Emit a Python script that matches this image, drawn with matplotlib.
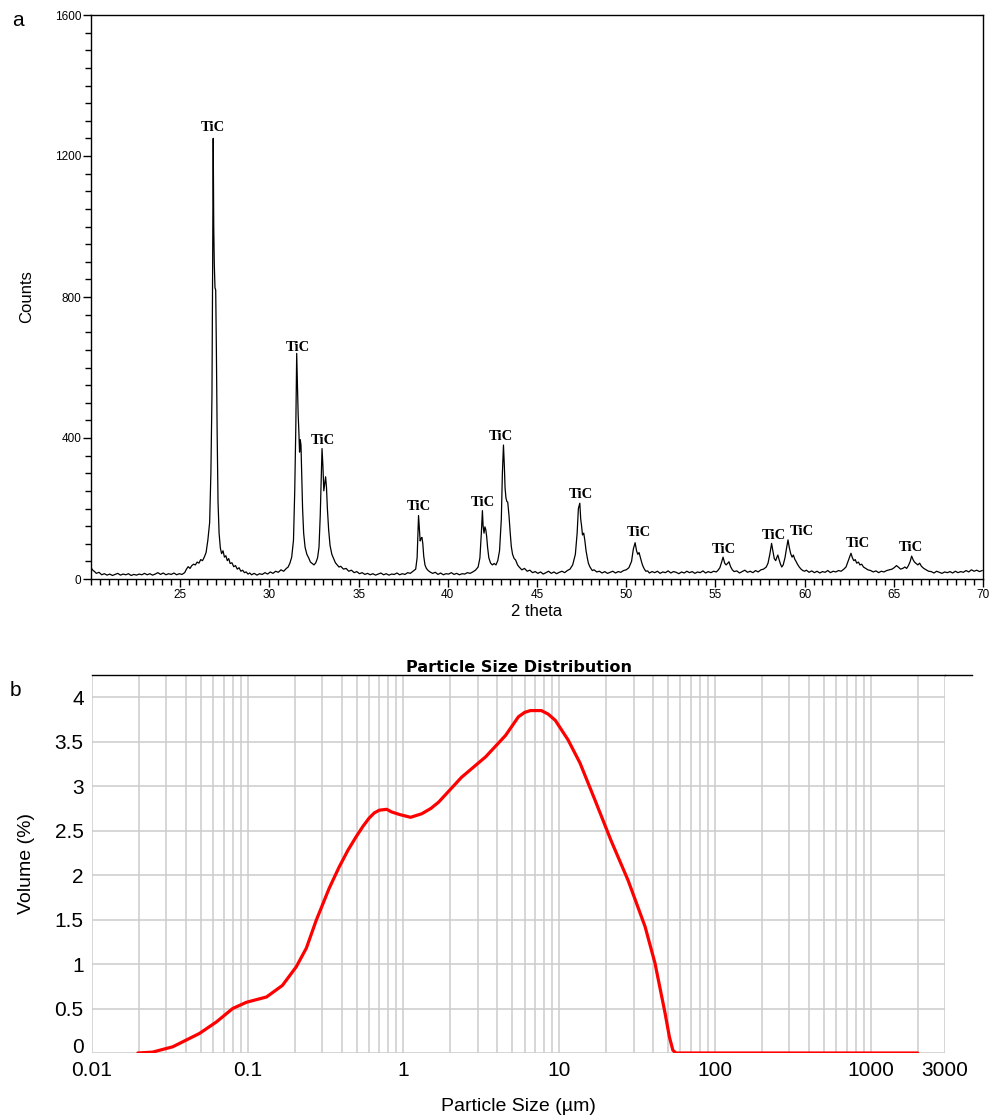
import numpy as np
import matplotlib
matplotlib.use('Agg')
import matplotlib.pyplot as plt
from matplotlib.ticker import MultipleLocator

# XRD 图谱数据 (2 theta, counts)
xrd_points = [
    (20.0, 32), (20.1, 25), (20.2, 21), (20.3, 16), (20.45, 19), (20.6, 12), (20.75, 15), (20.9, 11),
    (21.05, 14), (21.2, 10), (21.35, 13), (21.5, 16), (21.65, 11), (21.8, 14), (21.95, 12), (22.1, 15),
    (22.25, 10), (22.4, 13), (22.55, 11), (22.7, 14), (22.85, 12), (23.0, 16), (23.15, 12), (23.3, 15),
    (23.45, 11), (23.6, 14), (23.75, 18), (23.9, 13), (24.05, 17), (24.2, 12), (24.35, 15), (24.5, 13),
    (24.65, 17), (24.8, 12), (24.95, 15), (25.1, 13), (25.25, 18), (25.35, 28), (25.45, 35), (25.55, 30),
    (25.65, 38), (25.75, 42), (25.85, 40), (25.95, 48), (26.05, 45), (26.15, 55), (26.25, 52), (26.35, 62),
    (26.45, 75), (26.55, 110), (26.65, 160), (26.72, 300), (26.78, 520), (26.82, 900), (26.85, 1250),
    (26.88, 1000), (26.91, 896), (26.95, 826), (26.99, 820), (27.03, 640), (27.07, 420), (27.12, 220),
    (27.18, 130), (27.25, 88), (27.32, 72), (27.4, 80), (27.48, 62), (27.56, 66), (27.64, 52), (27.72, 58),
    (27.8, 44), (27.9, 46), (28.0, 35), (28.1, 38), (28.2, 28), (28.3, 32), (28.4, 22), (28.5, 25),
    (28.6, 18), (28.7, 20), (28.8, 14), (28.9, 17), (29.0, 12), (29.15, 16), (29.3, 11), (29.45, 15),
    (29.6, 13), (29.75, 18), (29.9, 14), (30.05, 20), (30.2, 16), (30.35, 22), (30.5, 19), (30.65, 26),
    (30.8, 22), (30.95, 30), (31.05, 34), (31.15, 45), (31.25, 62), (31.35, 110), (31.42, 250), (31.48, 430),
    (31.53, 640), (31.57, 560), (31.61, 470), (31.65, 420), (31.69, 360), (31.73, 395), (31.77, 380),
    (31.81, 300), (31.86, 200), (31.92, 130), (32.0, 90), (32.1, 70), (32.2, 60), (32.3, 48), (32.4, 44),
    (32.5, 40), (32.6, 46), (32.7, 60), (32.78, 90), (32.85, 180), (32.9, 280), (32.95, 370), (33.0, 320),
    (33.05, 250), (33.1, 270), (33.15, 290), (33.2, 260), (33.25, 200), (33.32, 140), (33.4, 95), (33.5, 70),
    (33.6, 58), (33.7, 46), (33.8, 40), (33.9, 34), (34.0, 36), (34.15, 28), (34.3, 30), (34.45, 22),
    (34.6, 25), (34.75, 18), (34.9, 21), (35.05, 15), (35.2, 18), (35.35, 13), (35.5, 16), (35.65, 12),
    (35.8, 15), (35.95, 11), (36.1, 14), (36.25, 17), (36.4, 12), (36.55, 15), (36.7, 11), (36.85, 14),
    (37.0, 13), (37.15, 17), (37.3, 12), (37.45, 15), (37.6, 13), (37.75, 18), (37.9, 16), (38.05, 22),
    (38.2, 28), (38.28, 60), (38.33, 130), (38.36, 180), (38.4, 150), (38.45, 108), (38.5, 115),
    (38.55, 118), (38.6, 100), (38.65, 65), (38.72, 40), (38.8, 30), (38.9, 24), (39.0, 20), (39.15, 16),
    (39.3, 19), (39.45, 13), (39.6, 17), (39.75, 12), (39.9, 15), (40.05, 14), (40.2, 18), (40.35, 13),
    (40.5, 16), (40.65, 12), (40.8, 15), (40.95, 14), (41.1, 18), (41.25, 16), (41.4, 20), (41.55, 25),
    (41.7, 34), (41.8, 60), (41.88, 130), (41.94, 194), (41.98, 150), (42.03, 130), (42.08, 148),
    (42.13, 140), (42.18, 120), (42.23, 90), (42.3, 60), (42.4, 45), (42.5, 40), (42.6, 44), (42.7, 40),
    (42.8, 52), (42.9, 80), (43.0, 170), (43.06, 300), (43.12, 380), (43.17, 320), (43.21, 258),
    (43.26, 230), (43.31, 220), (43.36, 218), (43.43, 180), (43.5, 130), (43.56, 92), (43.63, 70),
    (43.72, 58), (43.8, 54), (43.91, 40), (44.0, 34), (44.15, 26), (44.3, 30), (44.45, 22), (44.6, 25),
    (44.75, 18), (44.9, 21), (45.05, 16), (45.2, 20), (45.35, 14), (45.5, 18), (45.65, 22), (45.8, 16),
    (45.95, 20), (46.1, 15), (46.25, 19), (46.4, 22), (46.55, 18), (46.7, 24), (46.85, 28), (47.0, 40),
    (47.15, 70), (47.25, 130), (47.32, 200), (47.4, 215), (47.45, 170), (47.5, 150), (47.55, 125),
    (47.62, 130), (47.68, 110), (47.75, 80), (47.82, 60), (47.88, 45), (47.95, 36), (48.02, 30),
    (48.1, 24), (48.2, 26), (48.35, 20), (48.5, 22), (48.65, 17), (48.8, 21), (48.95, 16), (49.1, 19),
    (49.25, 22), (49.4, 17), (49.55, 21), (49.7, 19), (49.85, 24), (50.0, 26), (50.15, 32), (50.3, 50),
    (50.4, 85), (50.5, 103), (50.58, 80), (50.65, 70), (50.72, 75), (50.8, 60), (50.88, 45), (50.95, 35),
    (51.02, 28), (51.1, 22), (51.2, 23), (51.3, 17), (51.45, 21), (51.6, 18), (51.75, 22), (51.9, 16),
    (52.05, 20), (52.2, 18), (52.35, 23), (52.5, 17), (52.65, 21), (52.8, 19), (52.95, 15), (53.1, 20),
    (53.25, 17), (53.4, 22), (53.55, 18), (53.7, 21), (53.85, 16), (54.0, 20), (54.15, 18), (54.3, 23),
    (54.45, 17), (54.6, 21), (54.75, 18), (54.9, 22), (55.05, 20), (55.15, 25), (55.25, 32), (55.35, 48),
    (55.43, 62), (55.52, 45), (55.6, 40), (55.68, 44), (55.76, 49), (55.85, 35), (55.95, 26), (56.05, 21),
    (56.2, 23), (56.35, 17), (56.5, 21), (56.65, 25), (56.8, 19), (56.95, 22), (57.1, 18), (57.25, 24),
    (57.4, 20), (57.55, 26), (57.7, 28), (57.85, 34), (57.95, 45), (58.05, 70), (58.15, 101), (58.22, 80),
    (58.3, 58), (58.38, 52), (58.45, 62), (58.5, 68), (58.57, 55), (58.65, 42), (58.72, 34), (58.8, 40),
    (58.9, 60), (58.98, 85), (59.07, 111), (59.14, 90), (59.22, 72), (59.3, 62), (59.37, 68), (59.45, 56),
    (59.52, 50), (59.6, 42), (59.7, 34), (59.8, 28), (59.9, 24), (60.0, 22), (60.1, 25), (60.25, 19),
    (60.4, 23), (60.55, 18), (60.7, 22), (60.85, 17), (61.0, 21), (61.15, 19), (61.3, 24), (61.45, 18),
    (61.6, 22), (61.75, 20), (61.9, 24), (62.05, 22), (62.2, 28), (62.32, 34), (62.42, 48), (62.52, 62),
    (62.6, 73), (62.68, 60), (62.76, 52), (62.84, 55), (62.92, 45), (63.02, 48), (63.1, 40), (63.2, 42),
    (63.3, 34), (63.42, 30), (63.55, 26), (63.7, 24), (63.85, 20), (64.0, 23), (64.15, 18), (64.3, 22),
    (64.45, 20), (64.6, 24), (64.75, 26), (64.9, 28), (65.02, 32), (65.15, 38), (65.25, 34), (65.38, 28),
    (65.5, 30), (65.62, 34), (65.72, 30), (65.82, 38), (65.92, 50), (66.0, 65), (66.08, 55), (66.16, 48),
    (66.25, 44), (66.35, 40), (66.45, 45), (66.55, 36), (66.68, 30), (66.82, 26), (66.95, 22),
    (67.1, 21), (67.25, 17), (67.4, 22), (67.55, 19), (67.7, 16), (67.85, 20), (68.0, 18), (68.15, 21),
    (68.3, 17), (68.45, 22), (68.6, 18), (68.75, 21), (68.9, 19), (69.05, 24), (69.2, 20), (69.35, 26),
    (69.5, 22), (69.65, 25), (69.8, 21), (69.95, 24),
]

# 峰位标注 (文字中心位置)
tic_2theta = [26.85, 31.57, 32.98, 38.37, 41.97, 42.98, 47.47, 50.73, 55.5, 58.26, 59.83, 62.98, 65.96]
tic_counts = [1280, 658, 394, 207, 216, 403, 241, 133, 85, 122, 136, 102, 88]

# 粒度分布数据
psd_size = [0.0197, 0.0245, 0.033, 0.049, 0.063, 0.080, 0.098, 0.132, 0.167, 0.205, 0.238,
            0.275, 0.333, 0.386, 0.44, 0.496, 0.55, 0.601, 0.65, 0.70, 0.78, 0.84, 0.95, 1.11,
            1.31, 1.5, 1.68, 2.36, 3.37, 4.52, 5.47, 6.0, 6.53, 7.68, 8.5, 9.44, 11.4, 13.6, 17.0,
            21.5, 27.7, 35.6, 41.2, 47.8, 51.0, 53.7, 56.2, 100, 1000, 2000]
psd_volume = [0.0, 0.01, 0.07, 0.22, 0.35, 0.50, 0.57, 0.63, 0.76, 0.97, 1.18,
              1.49, 1.85, 2.09, 2.28, 2.43, 2.55, 2.64, 2.70, 2.73, 2.74, 2.71, 2.68, 2.65,
              2.69, 2.75, 2.82, 3.10, 3.33, 3.57, 3.78, 3.83, 3.85, 3.85, 3.81, 3.74, 3.52, 3.26, 2.84,
              2.39, 1.94, 1.42, 1.01, 0.45, 0.18, 0.03, 0.0, 0.0, 0.0, 0.0]
psd_ticks = [0.01, 0.1, 1, 10, 100, 1000, 3000]
psd_ticklabels = ['0.01', '0.1', '1', '10', '100', '1000', '3000']


def main():
    plt.rcParams['font.family'] = ['Liberation Sans', 'DejaVu Sans']
    fig = plt.figure(figsize=(9.89, 11.2), dpi=100)
    W, H = 989.0, 1120.0

    # ---- a: XRD ----
    xrd_2theta = [p[0] for p in xrd_points]
    xrd_counts = [p[1] for p in xrd_points]
    ax1 = fig.add_axes([91 / W, 1 - 579 / H, (983 - 91) / W, (579 - 15) / H])
    ax1.plot(xrd_2theta, xrd_counts, color='black', lw=0.9)
    for x, y in zip(tic_2theta, tic_counts):
        ax1.text(x, y, 'TiC', ha='center', va='center', fontsize=10.5,
                 family='Liberation Serif', fontweight='bold')
    ax1.set_xlim(20, 70)
    ax1.set_ylim(0, 1600)
    ax1.set_xticks([25, 30, 35, 40, 45, 50, 55, 60, 65, 70])
    ax1.xaxis.set_minor_locator(MultipleLocator(0.5))
    ax1.set_yticks([0, 400, 800, 1200, 1600])
    ax1.yaxis.set_minor_locator(MultipleLocator(50))
    ax1.tick_params(axis='both', which='major', length=6, width=1, labelsize=8.5, pad=1)
    ax1.tick_params(axis='both', which='minor', length=4, width=1)
    for s in ax1.spines.values():
        s.set_linewidth(1.0)
    ax1.set_xlabel('2 theta', fontsize=12, labelpad=2)
    ax1.set_ylabel('Counts', fontsize=12, labelpad=15)
    fig.text(12 / W, 1 - 20 / H, 'a', fontsize=15, va='center')

    # ---- b: 粒度分布 ----
    ax2 = fig.add_axes([92 / W, 1 - 1053 / H, (945 - 92) / W, (1053 - 675) / H])
    ax2.plot(psd_size, psd_volume, color='#ff0000', lw=2.3, solid_capstyle='round')
    ax2.set_xscale('log')
    ax2.set_xlim(0.01, 3000)
    ax2.set_ylim(0, 4.25)
    ax2.set_xticks(psd_ticks)
    ax2.set_xticklabels(psd_ticklabels)
    ax2.set_xticks([m * 10.0 ** e for e in range(-2, 4) for m in range(2, 10) if m * 10.0 ** e < 3000],
                   minor=True)
    ax2.set_yticks([0, 0.5, 1, 1.5, 2, 2.5, 3, 3.5, 4])
    ax2.set_yticklabels(['0', '0.5', '1', '1.5', '2', '2.5', '3', '3.5', '4'])
    ax2.grid(True, which='both', color='#cccccc', lw=1.1)
    ax2.set_axisbelow(True)
    ax2.tick_params(axis='both', which='both', length=0, labelsize=15)
    ax2.tick_params(axis='x', pad=6)
    ax2.tick_params(axis='y', pad=6)
    # "0" 稍微上移，避免与 0.01 重叠
    ax2.get_yticklabels()[0].set_va('baseline')
    for k in ['left', 'right', 'bottom']:
        ax2.spines[k].set_visible(False)
    ax2.spines['top'].set_linewidth(1.0)
    ax2.plot([1, 1.032], [1, 1], transform=ax2.transAxes, color='black', lw=1.0, clip_on=False)
    ax2.set_title('Particle Size Distribution', fontsize=11.5, fontweight='bold',
                  family='DejaVu Sans', pad=1)
    ax2.set_xlabel('Particle Size (µm)', fontsize=14, labelpad=13)
    ax2.set_ylabel('Volume (%)', fontsize=14, labelpad=14)
    fig.text(10 / W, 1 - 690 / H, 'b', fontsize=15, va='center')

    fig.savefig('out.png', dpi=100)


if __name__ == '__main__':
    main()
